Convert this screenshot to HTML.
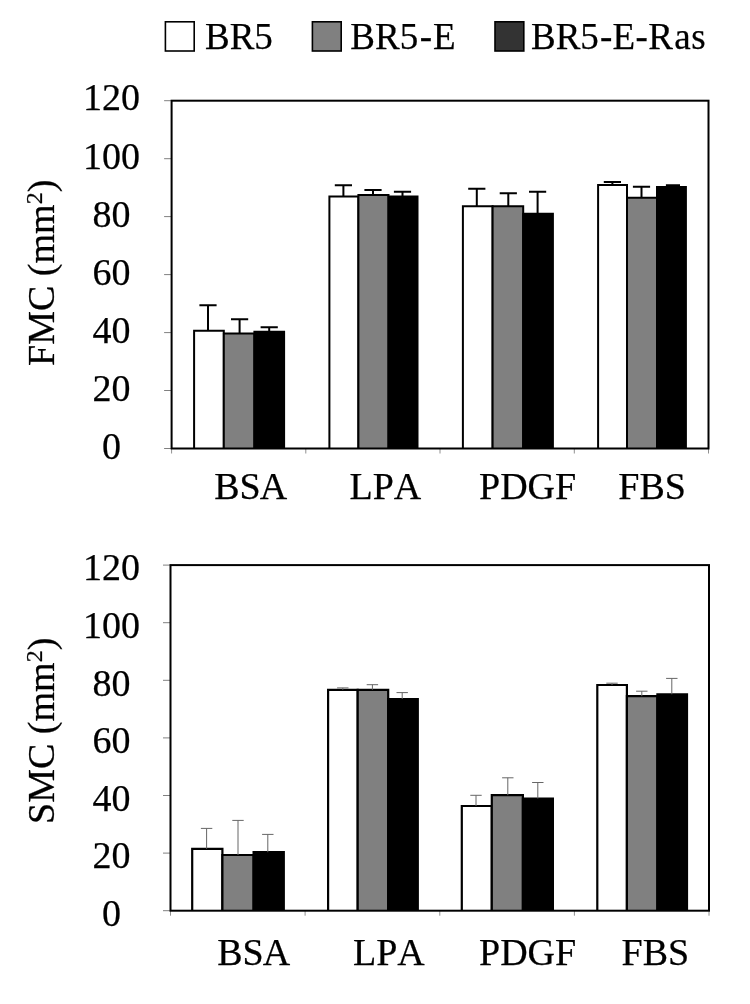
<!DOCTYPE html>
<html><head><meta charset="utf-8"><title>chart</title>
<style>
html,body{margin:0;padding:0;background:#fff;}
body{width:750px;height:1004px;overflow:hidden;font-family:"Liberation Serif",serif;}
svg{display:block;will-change:transform;filter:blur(0.4px);}
text{font-family:"Liberation Serif",serif;fill:#000;font-kerning:none;stroke:#000;stroke-width:0.25px;}
</style></head><body>
<svg width="750" height="1004" viewBox="0 0 750 1004">
<rect x="0" y="0" width="750" height="1004" fill="#fff"/>

<g>
<rect x="165.4" y="21.8" width="28.8" height="29.2" fill="#fff" stroke="#000" stroke-width="1.6"/>
<rect x="312.4" y="21.8" width="28.8" height="29.2" fill="#808080" stroke="#000" stroke-width="1.6"/>
<rect x="495.0" y="21.8" width="28.8" height="29.2" fill="#333" stroke="#000" stroke-width="1.6"/>
<text y="48.8" font-size="37"><tspan x="205.0">BR5</tspan></text>
<text y="48.8" font-size="37"><tspan x="350.3">BR5</tspan><tspan x="419.7">-</tspan><tspan x="433.0">E</tspan></text>
<text y="48.8" font-size="37"><tspan x="531.0">BR5</tspan><tspan x="599.9">-</tspan><tspan x="612.6">E</tspan><tspan x="635.6">-</tspan><tspan x="648.3">R</tspan><tspan x="674.3">a</tspan><tspan x="691.3">s</tspan></text>
</g>
<g id="top">
<line x1="164.1" y1="100.7" x2="171.6" y2="100.7" stroke="#808080" stroke-width="1"/>
<text x="111.6" y="110.4" font-size="38" text-anchor="middle">120</text>
<line x1="164.1" y1="158.7" x2="171.6" y2="158.7" stroke="#808080" stroke-width="1"/>
<text x="111.6" y="168.5" font-size="38" text-anchor="middle">100</text>
<line x1="164.1" y1="216.6" x2="171.6" y2="216.6" stroke="#808080" stroke-width="1"/>
<text x="111.6" y="226.7" font-size="38" text-anchor="middle">80</text>
<line x1="164.1" y1="274.6" x2="171.6" y2="274.6" stroke="#808080" stroke-width="1"/>
<text x="111.6" y="284.8" font-size="38" text-anchor="middle">60</text>
<line x1="164.1" y1="332.6" x2="171.6" y2="332.6" stroke="#808080" stroke-width="1"/>
<text x="111.6" y="342.9" font-size="38" text-anchor="middle">40</text>
<line x1="164.1" y1="390.5" x2="171.6" y2="390.5" stroke="#808080" stroke-width="1"/>
<text x="111.6" y="401.1" font-size="38" text-anchor="middle">20</text>
<line x1="164.1" y1="448.5" x2="171.6" y2="448.5" stroke="#808080" stroke-width="1"/>
<text x="111.6" y="459.2" font-size="38" text-anchor="middle">0</text>
<line x1="171.6" y1="448.5" x2="171.6" y2="453.5" stroke="#909090" stroke-width="1"/>
<line x1="305.8" y1="448.5" x2="305.8" y2="453.5" stroke="#909090" stroke-width="1"/>
<line x1="440.0" y1="448.5" x2="440.0" y2="453.5" stroke="#909090" stroke-width="1"/>
<line x1="574.3" y1="448.5" x2="574.3" y2="453.5" stroke="#909090" stroke-width="1"/>
<line x1="708.5" y1="448.5" x2="708.5" y2="453.5" stroke="#909090" stroke-width="1"/>
<path d="M194.1 448.5V330.8H223.8V448.5" fill="#fff" stroke="#000" stroke-width="2" stroke-linejoin="miter"/>
<path d="M223.8 448.5V333.6H254.4V448.5" fill="#808080" stroke="#000" stroke-width="2" stroke-linejoin="miter"/>
<path d="M254.4 448.5V331.8H284.1V448.5" fill="#000" stroke="#000" stroke-width="2" stroke-linejoin="miter"/>
<path d="M208.0 330.8V305.2M199.4 305.2H216.6" fill="none" stroke="#000" stroke-width="2"/>
<path d="M239.6 333.6V319.3M231.0 319.3H248.2" fill="none" stroke="#000" stroke-width="2"/>
<path d="M269.2 331.8V327.3M260.6 327.3H277.8" fill="none" stroke="#000" stroke-width="2"/>
<path d="M329.4 448.5V196.5H358.4V448.5" fill="#fff" stroke="#000" stroke-width="2" stroke-linejoin="miter"/>
<path d="M358.4 448.5V195.0H388.5V448.5" fill="#808080" stroke="#000" stroke-width="2" stroke-linejoin="miter"/>
<path d="M388.5 448.5V196.5H417.5V448.5" fill="#000" stroke="#000" stroke-width="2" stroke-linejoin="miter"/>
<path d="M343.4 196.5V185.3M334.8 185.3H352.0" fill="none" stroke="#000" stroke-width="2"/>
<path d="M373.0 195.0V190.1M364.4 190.1H381.6" fill="none" stroke="#000" stroke-width="2"/>
<path d="M402.5 196.5V191.7M393.9 191.7H411.1" fill="none" stroke="#000" stroke-width="2"/>
<path d="M462.9 448.5V206.2H492.6V448.5" fill="#fff" stroke="#000" stroke-width="2" stroke-linejoin="miter"/>
<path d="M492.6 448.5V206.2H523.2V448.5" fill="#808080" stroke="#000" stroke-width="2" stroke-linejoin="miter"/>
<path d="M523.2 448.5V213.8H552.9V448.5" fill="#000" stroke="#000" stroke-width="2" stroke-linejoin="miter"/>
<path d="M476.8 206.2V188.8M468.2 188.8H485.4" fill="none" stroke="#000" stroke-width="2"/>
<path d="M508.3 206.2V193.3M499.7 193.3H516.9" fill="none" stroke="#000" stroke-width="2"/>
<path d="M537.6 213.8V191.7M529.0 191.7H546.2" fill="none" stroke="#000" stroke-width="2"/>
<path d="M598.1 448.5V185.1H627.0V448.5" fill="#fff" stroke="#000" stroke-width="2" stroke-linejoin="miter"/>
<path d="M627.0 448.5V197.8H657.0V448.5" fill="#808080" stroke="#000" stroke-width="2" stroke-linejoin="miter"/>
<path d="M657.0 448.5V187.0H685.9V448.5" fill="#000" stroke="#000" stroke-width="2" stroke-linejoin="miter"/>
<path d="M612.4 185.1V182.0M603.8 182.0H621.0" fill="none" stroke="#000" stroke-width="2"/>
<path d="M641.5 197.8V186.8M632.9 186.8H650.1" fill="none" stroke="#000" stroke-width="2"/>
<path d="M673.0 187.0V185.3M665.9 185.3H680.0" fill="none" stroke="#000" stroke-width="2"/>
<rect x="171.6" y="100.7" width="536.9" height="347.8" fill="none" stroke="#000" stroke-width="2"/>
<text y="499.2" font-size="38"><tspan x="214.2">BS</tspan><tspan x="259.7">A</tspan></text>
<text y="499.2" font-size="38"><tspan x="349.5">LPA</tspan></text>
<text y="499.2" font-size="38"><tspan x="479.0">PDGF</tspan></text>
<text y="499.2" font-size="38"><tspan x="618.3">FBS</tspan></text>
<text transform="translate(53.9 272.8) rotate(-90)" font-size="38" text-anchor="middle">FMC (mm<tspan font-size="24" dy="-12.2">2</tspan><tspan dy="12.2">)</tspan></text>
</g>
<g id="bot">
<line x1="163.0" y1="565.1" x2="170.5" y2="565.1" stroke="#808080" stroke-width="1"/>
<text x="111.6" y="580.2" font-size="38" text-anchor="middle">120</text>
<line x1="163.0" y1="622.7" x2="170.5" y2="622.7" stroke="#808080" stroke-width="1"/>
<text x="111.6" y="637.8" font-size="38" text-anchor="middle">100</text>
<line x1="163.0" y1="680.3" x2="170.5" y2="680.3" stroke="#808080" stroke-width="1"/>
<text x="111.6" y="695.5" font-size="38" text-anchor="middle">80</text>
<line x1="163.0" y1="737.9" x2="170.5" y2="737.9" stroke="#808080" stroke-width="1"/>
<text x="111.6" y="753.1" font-size="38" text-anchor="middle">60</text>
<line x1="163.0" y1="795.5" x2="170.5" y2="795.5" stroke="#808080" stroke-width="1"/>
<text x="111.6" y="810.7" font-size="38" text-anchor="middle">40</text>
<line x1="163.0" y1="853.1" x2="170.5" y2="853.1" stroke="#808080" stroke-width="1"/>
<text x="111.6" y="868.4" font-size="38" text-anchor="middle">20</text>
<line x1="163.0" y1="910.7" x2="170.5" y2="910.7" stroke="#808080" stroke-width="1"/>
<text x="111.6" y="926.0" font-size="38" text-anchor="middle">0</text>
<line x1="170.5" y1="910.7" x2="170.5" y2="915.7" stroke="#909090" stroke-width="1"/>
<line x1="305.1" y1="910.7" x2="305.1" y2="915.7" stroke="#909090" stroke-width="1"/>
<line x1="439.8" y1="910.7" x2="439.8" y2="915.7" stroke="#909090" stroke-width="1"/>
<line x1="574.4" y1="910.7" x2="574.4" y2="915.7" stroke="#909090" stroke-width="1"/>
<line x1="709.0" y1="910.7" x2="709.0" y2="915.7" stroke="#909090" stroke-width="1"/>
<path d="M192.2 910.7V848.8H222.4V910.7" fill="#fff" stroke="#000" stroke-width="2.2" stroke-linejoin="miter"/>
<path d="M222.4 910.7V855.0H253.6V910.7" fill="#808080" stroke="#000" stroke-width="2.2" stroke-linejoin="miter"/>
<path d="M253.6 910.7V852.2H283.8V910.7" fill="#000" stroke="#000" stroke-width="2.2" stroke-linejoin="miter"/>
<path d="M206.6 848.8V828.4M200.9 828.4H212.3" fill="none" stroke="#666" stroke-width="1"/>
<path d="M238.0 855.0V820.4M232.3 820.4H243.7" fill="none" stroke="#666" stroke-width="1"/>
<path d="M267.8 852.2V834.4M262.1 834.4H273.5" fill="none" stroke="#666" stroke-width="1"/>
<path d="M328.1 910.7V689.8H357.7V910.7" fill="#fff" stroke="#000" stroke-width="2.2" stroke-linejoin="miter"/>
<path d="M357.7 910.7V689.8H388.2V910.7" fill="#808080" stroke="#000" stroke-width="2.2" stroke-linejoin="miter"/>
<path d="M388.2 910.7V699.0H417.8V910.7" fill="#000" stroke="#000" stroke-width="2.2" stroke-linejoin="miter"/>
<path d="M342.8 689.8V687.9M337.1 687.9H348.5" fill="none" stroke="#666" stroke-width="1"/>
<path d="M372.4 689.8V684.7M366.7 684.7H378.1" fill="none" stroke="#666" stroke-width="1"/>
<path d="M402.2 699.0V692.6M396.5 692.6H407.9" fill="none" stroke="#666" stroke-width="1"/>
<path d="M461.8 910.7V806.0H491.8V910.7" fill="#fff" stroke="#000" stroke-width="2.2" stroke-linejoin="miter"/>
<path d="M491.8 910.7V795.2H522.9V910.7" fill="#808080" stroke="#000" stroke-width="2.2" stroke-linejoin="miter"/>
<path d="M522.9 910.7V798.5H552.9V910.7" fill="#000" stroke="#000" stroke-width="2.2" stroke-linejoin="miter"/>
<path d="M476.0 806.0V795.3M470.3 795.3H481.7" fill="none" stroke="#666" stroke-width="1"/>
<path d="M507.8 795.2V777.8M502.1 777.8H513.5" fill="none" stroke="#666" stroke-width="1"/>
<path d="M537.8 798.5V782.5M532.1 782.5H543.5" fill="none" stroke="#666" stroke-width="1"/>
<path d="M597.3 910.7V685.0H626.9V910.7" fill="#fff" stroke="#000" stroke-width="2.2" stroke-linejoin="miter"/>
<path d="M626.9 910.7V696.2H657.4V910.7" fill="#808080" stroke="#000" stroke-width="2.2" stroke-linejoin="miter"/>
<path d="M657.4 910.7V694.3H687.0V910.7" fill="#000" stroke="#000" stroke-width="2.2" stroke-linejoin="miter"/>
<path d="M612.0 685.0V683.2M606.3 683.2H617.7" fill="none" stroke="#666" stroke-width="1"/>
<path d="M641.8 696.2V691.2M636.1 691.2H647.5" fill="none" stroke="#666" stroke-width="1"/>
<path d="M671.8 694.3V678.4M666.1 678.4H677.5" fill="none" stroke="#666" stroke-width="1"/>
<rect x="170.5" y="565.1" width="538.5" height="345.6" fill="none" stroke="#000" stroke-width="2"/>
<text y="964.6" font-size="38"><tspan x="217.2">BS</tspan><tspan x="262.8">A</tspan></text>
<text y="964.6" font-size="38"><tspan x="353.0">LPA</tspan></text>
<text y="964.6" font-size="38"><tspan x="479.0">PDGF</tspan></text>
<text y="964.6" font-size="38"><tspan x="621.5">FBS</tspan></text>
<text transform="translate(53.9 730.8) rotate(-90)" font-size="38" text-anchor="middle">SMC (mm<tspan font-size="24" dy="-12.2">2</tspan><tspan dy="12.2">)</tspan></text>
</g>
</svg></body></html>
